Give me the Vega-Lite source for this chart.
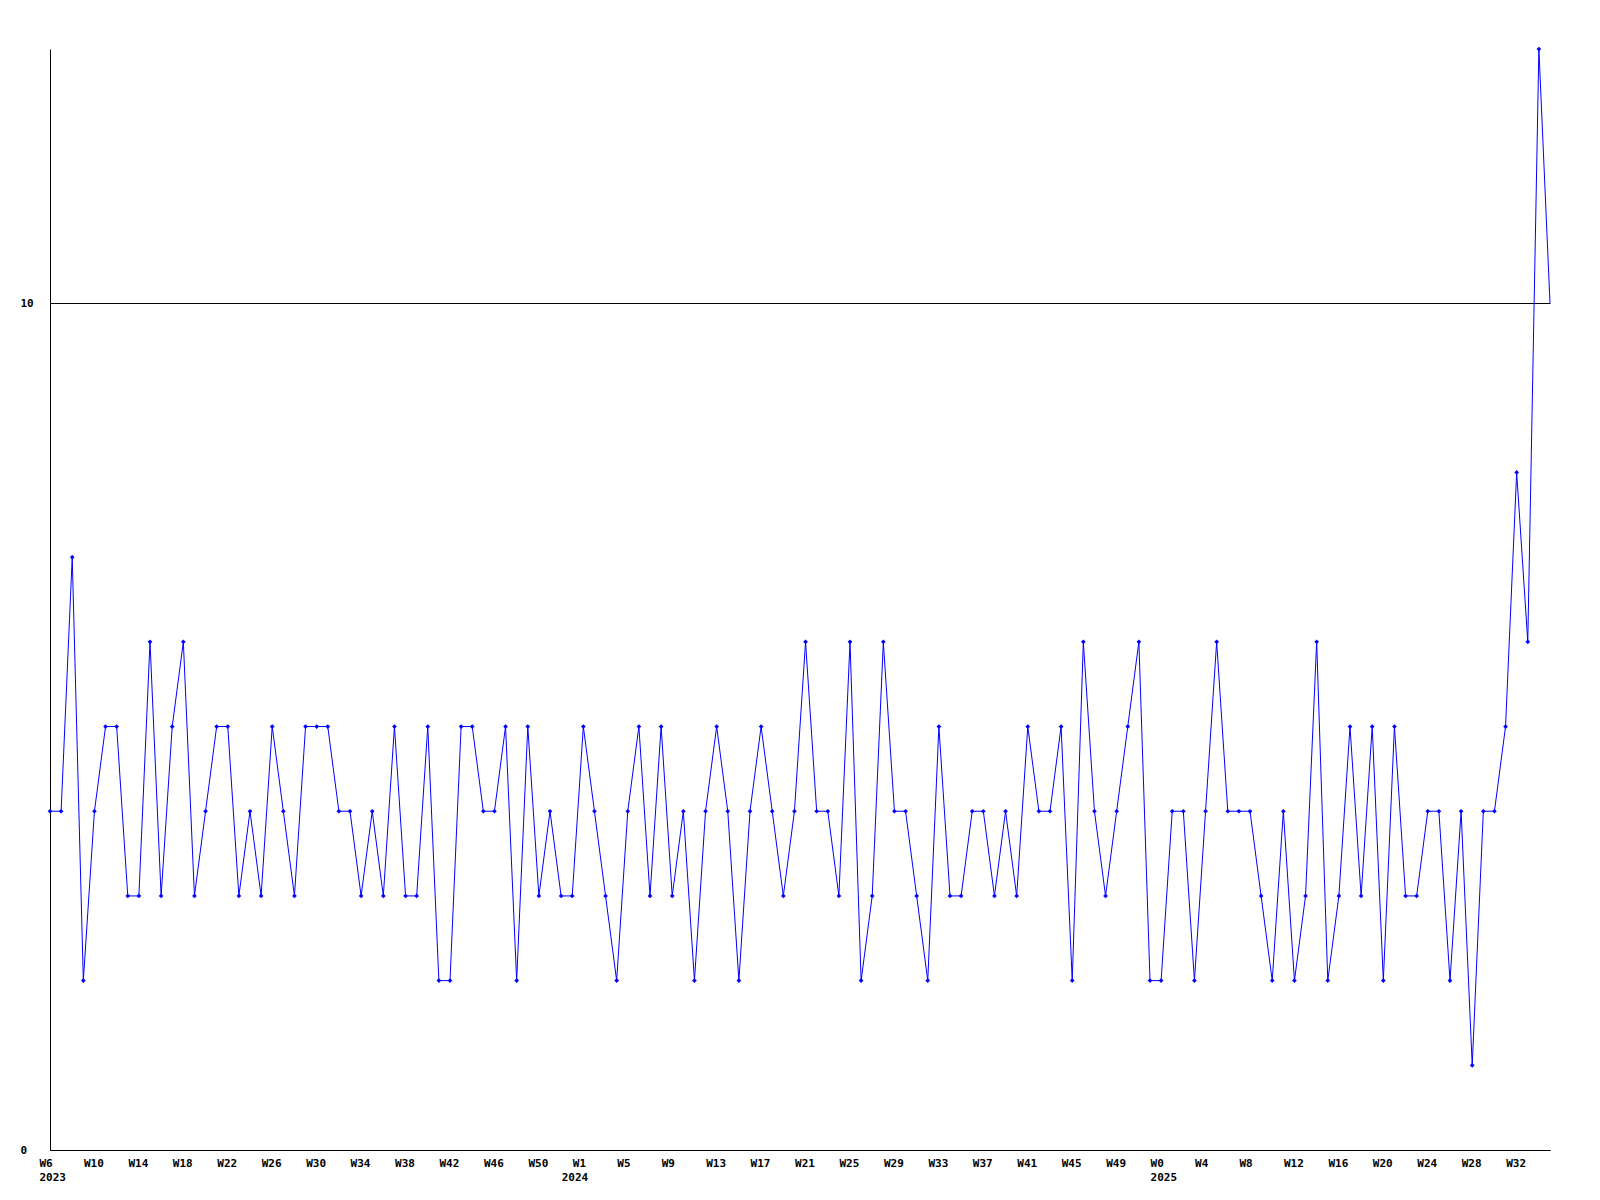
{
  "$schema": "https://vega.github.io/schema/vega-lite/v6.json",
  "width": 1500,
  "height": 1101,
  "autosize": {"type": "none"},
  "padding": {"left": 50, "top": 49, "right": 50, "bottom": 50},
  "background": "white",
  "config": {
    "view": {"stroke": null},
    "axis": {"labelFont": "DejaVu Sans Mono", "labelFontWeight": "bold", "labelFontSize": 11, "labelColor": "black"}
  },
  "data": {
    "values": [
      {"week": "2023 W6", "count": 4}, {"week": "2023 W7", "count": 4}, {"week": "2023 W8", "count": 7}, {"week": "2023 W9", "count": 2},
      {"week": "2023 W10", "count": 4}, {"week": "2023 W11", "count": 5}, {"week": "2023 W12", "count": 5}, {"week": "2023 W13", "count": 3},
      {"week": "2023 W14", "count": 3}, {"week": "2023 W15", "count": 6}, {"week": "2023 W16", "count": 3}, {"week": "2023 W17", "count": 5},
      {"week": "2023 W18", "count": 6}, {"week": "2023 W19", "count": 3}, {"week": "2023 W20", "count": 4}, {"week": "2023 W21", "count": 5},
      {"week": "2023 W22", "count": 5}, {"week": "2023 W23", "count": 3}, {"week": "2023 W24", "count": 4}, {"week": "2023 W25", "count": 3},
      {"week": "2023 W26", "count": 5}, {"week": "2023 W27", "count": 4}, {"week": "2023 W28", "count": 3}, {"week": "2023 W29", "count": 5},
      {"week": "2023 W30", "count": 5}, {"week": "2023 W31", "count": 5}, {"week": "2023 W32", "count": 4}, {"week": "2023 W33", "count": 4},
      {"week": "2023 W34", "count": 3}, {"week": "2023 W35", "count": 4}, {"week": "2023 W36", "count": 3}, {"week": "2023 W37", "count": 5},
      {"week": "2023 W38", "count": 3}, {"week": "2023 W39", "count": 3}, {"week": "2023 W40", "count": 5}, {"week": "2023 W41", "count": 2},
      {"week": "2023 W42", "count": 2}, {"week": "2023 W43", "count": 5}, {"week": "2023 W44", "count": 5}, {"week": "2023 W45", "count": 4},
      {"week": "2023 W46", "count": 4}, {"week": "2023 W47", "count": 5}, {"week": "2023 W48", "count": 2}, {"week": "2023 W49", "count": 5},
      {"week": "2023 W50", "count": 3}, {"week": "2023 W51", "count": 4}, {"week": "2023 W52", "count": 3}, {"week": "2024 W0", "count": 3},
      {"week": "2024 W1", "count": 5}, {"week": "2024 W2", "count": 4}, {"week": "2024 W3", "count": 3}, {"week": "2024 W4", "count": 2},
      {"week": "2024 W5", "count": 4}, {"week": "2024 W6", "count": 5}, {"week": "2024 W7", "count": 3}, {"week": "2024 W8", "count": 5},
      {"week": "2024 W9", "count": 3}, {"week": "2024 W10", "count": 4}, {"week": "2024 W11", "count": 2}, {"week": "2024 W12", "count": 4},
      {"week": "2024 W13", "count": 5}, {"week": "2024 W14", "count": 4}, {"week": "2024 W15", "count": 2}, {"week": "2024 W16", "count": 4},
      {"week": "2024 W17", "count": 5}, {"week": "2024 W18", "count": 4}, {"week": "2024 W19", "count": 3}, {"week": "2024 W20", "count": 4},
      {"week": "2024 W21", "count": 6}, {"week": "2024 W22", "count": 4}, {"week": "2024 W23", "count": 4}, {"week": "2024 W24", "count": 3},
      {"week": "2024 W25", "count": 6}, {"week": "2024 W26", "count": 2}, {"week": "2024 W27", "count": 3}, {"week": "2024 W28", "count": 6},
      {"week": "2024 W29", "count": 4}, {"week": "2024 W30", "count": 4}, {"week": "2024 W31", "count": 3}, {"week": "2024 W32", "count": 2},
      {"week": "2024 W33", "count": 5}, {"week": "2024 W34", "count": 3}, {"week": "2024 W35", "count": 3}, {"week": "2024 W36", "count": 4},
      {"week": "2024 W37", "count": 4}, {"week": "2024 W38", "count": 3}, {"week": "2024 W39", "count": 4}, {"week": "2024 W40", "count": 3},
      {"week": "2024 W41", "count": 5}, {"week": "2024 W42", "count": 4}, {"week": "2024 W43", "count": 4}, {"week": "2024 W44", "count": 5},
      {"week": "2024 W45", "count": 2}, {"week": "2024 W46", "count": 6}, {"week": "2024 W47", "count": 4}, {"week": "2024 W48", "count": 3},
      {"week": "2024 W49", "count": 4}, {"week": "2024 W50", "count": 5}, {"week": "2024 W51", "count": 6}, {"week": "2024 W52", "count": 2},
      {"week": "2025 W0", "count": 2}, {"week": "2025 W1", "count": 4}, {"week": "2025 W2", "count": 4}, {"week": "2025 W3", "count": 2},
      {"week": "2025 W4", "count": 4}, {"week": "2025 W5", "count": 6}, {"week": "2025 W6", "count": 4}, {"week": "2025 W7", "count": 4},
      {"week": "2025 W8", "count": 4}, {"week": "2025 W9", "count": 3}, {"week": "2025 W10", "count": 2}, {"week": "2025 W11", "count": 4},
      {"week": "2025 W12", "count": 2}, {"week": "2025 W13", "count": 3}, {"week": "2025 W14", "count": 6}, {"week": "2025 W15", "count": 2},
      {"week": "2025 W16", "count": 3}, {"week": "2025 W17", "count": 5}, {"week": "2025 W18", "count": 3}, {"week": "2025 W19", "count": 5},
      {"week": "2025 W20", "count": 2}, {"week": "2025 W21", "count": 5}, {"week": "2025 W22", "count": 3}, {"week": "2025 W23", "count": 3},
      {"week": "2025 W24", "count": 4}, {"week": "2025 W25", "count": 4}, {"week": "2025 W26", "count": 2}, {"week": "2025 W27", "count": 4},
      {"week": "2025 W28", "count": 1}, {"week": "2025 W29", "count": 4}, {"week": "2025 W30", "count": 4}, {"week": "2025 W31", "count": 5},
      {"week": "2025 W32", "count": 8}, {"week": "2025 W33", "count": 6}, {"week": "2025 W34", "count": 13}, {"week": "2025 W35", "count": 10}
    ]
  },
  "encoding": {
    "x": {
      "field": "week",
      "type": "ordinal",
      "sort": null,
      "scale": {"type": "point", "padding": 0},
      "axis": {
        "title": null,
        "grid": false,
        "ticks": false,
        "domainColor": "black",
        "domainWidth": 1,
        "labelAngle": 0,
        "labelAlign": "left",
        "labelBaseline": "top",
        "labelOffset": -11,
        "labelPadding": 7,
        "labelLineHeight": 14.5,
        "labelOverlap": false,
        "labelBound": false,
        "labelFlush": false,
        "values": ["2023 W6", "2023 W10", "2023 W14", "2023 W18", "2023 W22", "2023 W26", "2023 W30", "2023 W34", "2023 W38", "2023 W42", "2023 W46", "2023 W50",
                   "2024 W0", "2024 W1", "2024 W5", "2024 W9", "2024 W13", "2024 W17", "2024 W21", "2024 W25", "2024 W29", "2024 W33", "2024 W37", "2024 W41", "2024 W45", "2024 W49",
                   "2025 W0", "2025 W4", "2025 W8", "2025 W12", "2025 W16", "2025 W20", "2025 W24", "2025 W28", "2025 W32"],
        "labelExpr": "datum.value == '2024 W0' ? ['', '2024'] : (indexof(['2023 W6','2025 W0'], datum.value) >= 0 ? [split(datum.value, ' ')[1], split(datum.value, ' ')[0]] : split(datum.value, ' ')[1])"
      }
    },
    "y": {
      "field": "count",
      "type": "quantitative",
      "scale": {"domain": [0, 13], "nice": false, "zero": true},
      "axis": {
        "title": null,
        "values": [0, 10],
        "grid": true,
        "gridColor": "black",
        "gridOpacity": 1,
        "gridWidth": 1,
        "ticks": false,
        "domainColor": "black",
        "domainWidth": 1,
        "labelAlign": "left",
        "labelBaseline": "middle",
        "labelPadding": 30,
        "labelBound": false,
        "labelFlush": false,
        "labelOverlap": false
      }
    }
  },
  "layer": [
    {"mark": {"type": "line", "color": "#0000ff", "strokeWidth": 1, "interpolate": "linear"}},
    {
      "transform": [{"filter": "datum.week != '2025 W35'"}],
      "mark": {"type": "point", "shape": "diamond", "filled": true, "color": "#0000ff", "size": 22, "opacity": 1}
    }
  ]
}
